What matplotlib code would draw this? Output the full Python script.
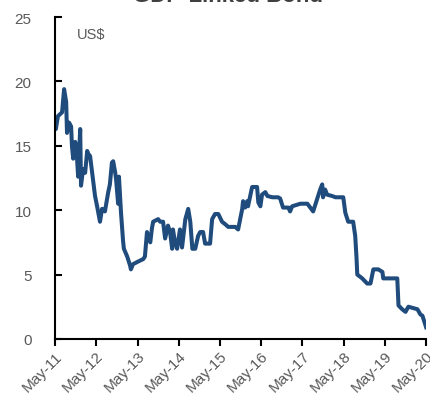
import matplotlib
matplotlib.use("Agg")
import matplotlib.pyplot as plt

# years elapsed since May-2011, and bond price in US$
years = [
    0.00, 0.02, 0.07, 0.17, 0.22, 0.27, 0.29, 0.34, 0.39, 0.41,
    0.44, 0.49, 0.53, 0.56, 0.61, 0.63, 0.68, 0.73, 0.78, 0.80,
    0.85, 0.92, 0.97, 1.02, 1.09, 1.14, 1.21, 1.29, 1.33, 1.38,
    1.41, 1.46, 1.48, 1.53, 1.55, 1.58, 1.60, 1.65, 1.67, 1.75,
    1.82, 1.84, 1.89, 2.01, 2.14, 2.18, 2.23, 2.26, 2.31, 2.35,
    2.38, 2.50, 2.55, 2.62, 2.67, 2.74, 2.79, 2.84, 2.86, 2.91,
    2.96, 3.03, 3.08, 3.16, 3.23, 3.28, 3.33, 3.40, 3.47, 3.52,
    3.59, 3.64, 3.76, 3.81, 3.88, 3.96, 4.05, 4.13, 4.20, 4.37,
    4.44, 4.49, 4.54, 4.56, 4.61, 4.66, 4.68, 4.78, 4.90, 4.93,
    4.98, 5.02, 5.10, 5.15, 5.27, 5.41, 5.46, 5.53, 5.66, 5.70,
    5.75, 5.95, 6.12, 6.19, 6.26, 6.36, 6.43, 6.48, 6.50, 6.55,
    6.60, 6.72, 6.80, 6.99, 7.04, 7.11, 7.23, 7.28, 7.31, 7.33,
    7.45, 7.57, 7.65, 7.72, 7.84, 7.94, 7.96, 8.30, 8.33, 8.42,
    8.50, 8.57, 8.79, 8.86, 8.91, 9.00,
]
price = [
    17.0, 16.3, 17.3, 17.6, 19.4, 18.4, 16.0, 16.8, 16.5, 15.0,
    14.0, 15.3, 14.2, 12.6, 16.3, 11.9, 13.2, 12.9, 14.6, 14.4,
    14.2, 12.4, 11.1, 10.3, 9.1, 10.1, 9.9, 11.4, 12.0, 13.7,
    13.8, 12.9, 12.4, 10.5, 12.6, 11.0, 9.8, 7.6, 7.0, 6.4,
    5.7, 5.4, 5.8, 6.0, 6.2, 6.4, 8.3, 8.0, 7.5, 8.6,
    9.1, 9.3, 9.1, 9.1, 7.8, 8.8, 8.3, 7.0, 8.5, 7.5,
    7.0, 8.5, 7.1, 9.3, 10.1, 9.1, 7.0, 7.0, 8.0, 8.3,
    8.3, 7.4, 7.4, 9.3, 9.7, 9.7, 9.1, 8.9, 8.7, 8.7,
    8.5, 9.3, 10.1, 10.7, 10.2, 10.7, 10.3, 11.8, 11.8, 10.6,
    10.3, 11.2, 11.4, 11.1, 11.0, 11.0, 10.9, 10.2, 10.2, 9.9,
    10.3, 10.5, 10.5, 10.2, 9.9, 10.9, 11.6, 12.0, 11.0, 11.6,
    11.2, 11.1, 11.0, 11.0, 9.8, 9.1, 9.1, 8.0, 6.4, 5.0,
    4.7, 4.3, 4.3, 5.4, 5.4, 5.2, 4.7, 4.7, 2.6, 2.3,
    2.1, 2.5, 2.3, 1.9, 1.8, 0.9,
]

tick_labels = ["May-11", "May-12", "May-13", "May-14", "May-15",
               "May-16", "May-17", "May-18", "May-19", "May-20"]

grey = "#595959"
plt.rcParams["font.family"] = ["Liberation Sans", "DejaVu Sans"]

fig = plt.figure(figsize=(4.3, 4.1), dpi=100)
ax = fig.add_axes([0.128, 0.171, 0.863, 0.785])

ax.plot(years, price, color="#1F4B7D", linewidth=2.9, solid_joinstyle="round")

ax.set_xlim(0, 9)
ax.set_ylim(0, 25)
ax.set_xticks(range(len(tick_labels)))
ax.set_xticklabels(tick_labels, rotation=45, ha="right", rotation_mode="anchor")
ax.set_yticks([0, 5, 10, 15, 20, 25])

for side in ["top", "right"]:
    ax.spines[side].set_visible(False)
for side in ["left", "bottom"]:
    ax.spines[side].set_linewidth(1.5)
    ax.spines[side].set_color("black")

ax.tick_params(axis="y", direction="in", length=5, width=1.5, labelsize=11,
               labelcolor=grey, pad=17)
ax.tick_params(axis="x", direction="out", length=5, width=1.5, labelsize=11,
               labelcolor=grey, pad=2)

ax.text(0.06, 0.97, "US$", transform=ax.transAxes, fontsize=10.5, color=grey,
        va="top", ha="left")

# chart title sits right at the top edge of the figure
fig.text(0.53, 0.996, "GDP-Linked Bond", fontsize=16, fontweight="bold",
         color="#404040", ha="center", va="baseline")

fig.savefig("out.png", dpi=100)
